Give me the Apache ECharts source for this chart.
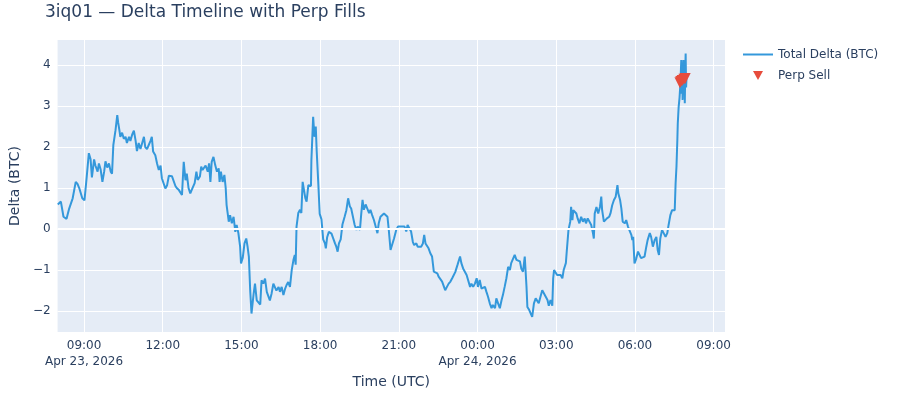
<!DOCTYPE html>
<html>
<head>
<meta charset="utf-8">
<script src="https://cdn.jsdelivr.net/npm/echarts@6/dist/echarts.min.js"></script>
<style>
html, body { margin: 0; padding: 0; background: #fff; }
#main { width: 900px; height: 400px; }
</style>
</head>
<body>
<div id="main"></div>
<script>
// minutes since 2026-04-23 00:00 UTC, total delta in BTC
var deltaPoints = [
  [480,0.60],[487,0.67],[493,0.30],[500,0.25],[506,0.50],[514,0.75],[521,1.15],[525,1.10],[529,1.00],[536,0.75],
  [541,0.70],[546,1.26],[551,1.85],[555,1.70],[558,1.26],[563,1.70],[566,1.55],[571,1.40],[574,1.60],[578,1.45],
  [582,1.15],[586,1.40],[589,1.65],[593,1.50],[597,1.60],[601,1.40],[604,1.35],[607,2.05],[612,2.41],[616,2.78],
  [618,2.60],[621,2.40],[623,2.25],[627,2.35],[631,2.20],[635,2.25],[638,2.10],[643,2.25],[646,2.15],[650,2.30],
  [654,2.40],[658,2.15],[661,1.90],[665,2.10],[669,1.95],[673,2.10],[677,2.25],[680,2.00],[684,1.95],[688,2.05],
  [692,2.15],[695,2.25],[698,1.89],[703,1.80],[707,1.60],[711,1.44],[715,1.55],[718,1.24],[722,1.28],[726,0.99],
  [730,1.07],[734,1.30],[737,1.33],[741,1.29],[745,1.26],[749,1.05],[752,1.00],[757,0.95],[760,0.95],[764,0.83],
  [768,1.64],[772,1.19],[775,1.35],[779,1.00],[783,0.87],[785,0.83],[788,1.00],[793,1.12],[797,1.40],[800,1.20],
  [805,1.28],[808,1.52],[811,1.44],[815,1.40],[818,1.55],[823,1.40],[826,1.60],[829,1.15],[832,1.64],[836,1.76],
  [840,1.56],[844,1.40],[848,1.48],[850,1.15],[853,1.40],[857,1.15],[861,1.32],[864,1.00],[866,0.59],[871,0.18],
  [874,0.34],[878,0.14],[882,0.30],[886,-0.07],[889,0.10],[893,-0.10],[897,-0.43],[899,-0.84],[903,-0.70],[907,-0.35],
  [911,-0.23],[914,-0.43],[917,-0.68],[920,-1.49],[923,-2.06],[928,-1.57],[931,-1.33],[935,-1.74],[939,-1.76],[943,-1.84],
  [946,-1.25],[950,-1.33],[954,-1.21],[958,-1.53],[962,-1.50],[965,-1.74],[969,-1.57],[973,-1.33],[977,-1.29],[980,-1.50],
  [985,-1.41],[988,-1.53],[992,-1.41],[996,-1.61],[1000,-1.45],[1003,-1.37],[1007,-1.29],[1011,-1.41],[1015,-1.00],[1019,-0.75],
  [1022,-0.63],[1024,-0.87],[1026,0.06],[1030,0.39],[1034,0.47],[1037,0.39],[1040,1.15],[1043,1.11],[1046,0.76],[1049,0.67],
  [1053,1.07],[1057,1.10],[1059,1.05],[1060,1.68],[1064,2.74],[1067,2.25],[1070,2.50],[1072,1.93],[1076,1.07],[1079,0.37],
  [1083,0.24],[1087,-0.25],[1091,-0.35],[1093,-0.47],[1096,-0.20],[1100,-0.07],[1106,-0.11],[1109,-0.07],[1114,-0.35],[1117,-0.43],
  [1120,-0.55],[1123,-0.35],[1127,-0.25],[1131,0.11],[1136,0.30],[1140,0.46],[1144,0.75],[1148,0.55],[1151,0.50],[1155,0.50],
  [1159,0.10],[1163,-0.02],[1166,0.06],[1171,-0.02],[1174,0.37],[1177,0.71],[1180,0.47],[1184,0.60],[1188,0.60],[1192,0.39],
  [1195,0.47],[1199,0.34],[1203,0.22],[1207,0.06],[1211,-0.10],[1214,0.14],[1218,0.30],[1222,0.34],[1226,0.38],[1229,0.34],
  [1234,0.30],[1237,-0.02],[1241,-0.51],[1245,-0.47],[1249,-0.23],[1254,-0.02],[1258,0.06],[1261,0.02],[1265,0.06],[1269,0.02],
  [1273,0.06],[1277,-0.06],[1280,0.10],[1284,0.06],[1288,-0.06],[1292,-0.31],[1295,-0.39],[1300,-0.35],[1303,-0.43],[1307,-0.39],
  [1311,-0.43],[1315,-0.35],[1318,-0.14],[1321,-0.35],[1325,-0.39],[1328,-0.47],[1332,-0.59],[1336,-0.67],[1340,-1.04],[1343,-1.00],
  [1348,-1.08],[1351,-1.16],[1355,-1.20],[1359,-1.28],[1363,-1.24],[1366,-1.49],[1370,-1.41],[1374,-1.33],[1378,-1.28],[1382,-1.20],
  [1385,-1.16],[1389,-1.05],[1394,-0.88],[1400,-0.67],[1403,-0.83],[1407,-0.96],[1411,-1.00],[1415,-1.12],[1418,-1.16],[1423,-1.41],
  [1426,-1.33],[1430,-1.41],[1434,-1.33],[1438,-1.20],[1441,-1.41],[1445,-1.24],[1449,-1.45],[1453,-1.41],[1457,-1.41],[1460,-1.52],
  [1464,-1.65],[1468,-1.81],[1472,-1.93],[1475,-1.85],[1480,-1.93],[1483,-1.69],[1487,-1.81],[1491,-1.93],[1495,-1.73],[1498,-1.61],
  [1502,-1.41],[1506,-1.20],[1510,-0.92],[1514,-1.00],[1517,-0.83],[1521,-0.79],[1525,-0.63],[1529,-0.75],[1532,-0.71],[1537,-0.79],
  [1540,-0.96],[1544,-1.04],[1548,-0.67],[1552,-1.41],[1554,-1.90],[1558,-1.97],[1562,-1.93],[1565,-2.14],[1569,-1.81],[1573,-1.69],
  [1577,-1.65],[1580,-1.81],[1585,-1.61],[1588,-1.49],[1592,-1.57],[1596,-1.65],[1600,-1.73],[1603,-1.87],[1607,-1.73],[1611,-1.87],
  [1613,-1.20],[1615,-1.00],[1619,-1.04],[1622,-1.12],[1626,-1.08],[1630,-1.12],[1634,-1.20],[1637,-1.00],[1642,-0.83],[1644,-0.55],
  [1648,-0.02],[1652,0.18],[1654,0.54],[1657,0.22],[1659,0.46],[1662,0.42],[1666,0.38],[1669,0.26],[1673,0.14],[1677,0.30],
  [1681,0.18],[1685,0.26],[1688,0.14],[1692,0.26],[1696,0.22],[1700,0.10],[1704,-0.10],[1706,-0.23],[1708,0.38],[1712,0.54],
  [1716,0.38],[1720,0.54],[1723,0.79],[1725,0.46],[1729,0.18],[1733,0.14],[1736,0.26],[1741,0.30],[1744,0.38],[1748,0.58],
  [1752,0.71],[1756,0.79],[1760,1.07],[1762,0.87],[1766,0.71],[1769,0.50],[1772,0.18],[1777,0.14],[1780,0.22],[1784,0.06],
  [1788,0.02],[1792,-0.15],[1794,-0.27],[1796,-0.19],[1799,-0.84],[1803,-0.72],[1807,-0.55],[1811,-0.59],[1814,-0.71],[1818,-0.71],
  [1822,-0.67],[1826,-0.43],[1829,-0.27],[1834,-0.10],[1837,-0.19],[1841,-0.43],[1845,-0.27],[1849,-0.19],[1852,-0.51],[1855,-0.63],
  [1858,-0.23],[1862,-0.02],[1866,-0.06],[1870,-0.19],[1874,-0.10],[1877,0.10],[1881,0.34],[1885,0.46],[1889,0.42],[1891,0.46],
  [1893,1.11],[1895,1.52],[1897,2.17],[1898,2.58],[1900,2.98],[1902,3.20],[1904,3.55],[1906,4.12],[1907,3.30],[1908,4.05],
  [1909,3.15],[1910,3.90],[1911,4.12],[1912,3.40],[1913,3.90],[1914,3.07],[1915,3.80],[1916,4.28],[1917,3.45],[1918,3.70]
];

// perp sell fills: minutes, delta at fill
var sellPoints = [[1903,3.57],[1905,3.60],[1908,3.62],[1912,3.65],[1915,3.67]];

// x tick positions (minutes since Apr 23 00:00 UTC) and y ticks
var xTickMinutes = [540, 720, 900, 1080, 1260, 1440, 1620, 1800, 1980];
var yTicks = [-2, -1, 0, 1, 2, 3, 4];

var t0 = Date.UTC(2026, 3, 23);
function toMs(m) { return t0 + m * 60000; }
var months = ['Jan','Feb','Mar','Apr','May','Jun','Jul','Aug','Sep','Oct','Nov','Dec'];
function pad(n) { return (n < 10 ? '0' : '') + n; }

var textColor = '#2a3f5f';
var font = 'Verdana, "DejaVu Sans", sans-serif';

var chart = echarts.init(document.getElementById('main'));
chart.setOption({
    animation: false,
    textStyle: { fontFamily: font, color: textColor },
    title: {
        text: '3iq01 \u2014 Delta Timeline with Perp Fills',
        left: 45, top: 4, padding: 0,
        textStyle: { fontFamily: font, fontSize: 17, fontWeight: 'normal', color: textColor }
    },
    legend: {
        orient: 'vertical',
        left: 743, top: 48.5, padding: 0,
        itemWidth: 30, itemHeight: 9, itemGap: 9,
        textStyle: { fontFamily: font, fontSize: 12, color: textColor },
        data: [
            { name: 'Total Delta (BTC)', icon: 'path://M0,0 L30,0 L30,2 L0,2 Z' },
            { name: 'Perp Sell', icon: 'path://M0,0 L10,0 L5,9 Z' }
        ]
    },
    grid: {
        left: 55, right: 175, top: 40, bottom: 68,
        show: true, backgroundColor: '#E5ECF6', borderWidth: 0
    },
    xAxis: {
        type: 'value',
        min: toMs(479.5), max: toMs(2006),
        name: 'Time (UTC)', nameLocation: 'middle', nameGap: 42,
        nameTextStyle: { fontFamily: font, fontSize: 14, color: textColor },
        axisLine: { show: false },
        axisTick: { show: false, customValues: xTickMinutes.map(toMs) },
        splitLine: { show: true, lineStyle: { color: '#fff', width: 1 } },
        axisLabel: {
            customValues: xTickMinutes.map(toMs),
            margin: 6, fontSize: 12, lineHeight: 16, color: textColor, fontFamily: font,
            formatter: function (v) {
                var d = new Date(v);
                var s = pad(d.getUTCHours()) + ':' + pad(d.getUTCMinutes());
                if (v === toMs(xTickMinutes[0]) || d.getUTCHours() === 0) {
                    s += '\n' + months[d.getUTCMonth()] + ' ' + d.getUTCDate() + ', ' + d.getUTCFullYear();
                }
                return s;
            }
        }
    },
    yAxis: {
        type: 'value',
        min: -2.51, max: 4.61,
        name: 'Delta (BTC)', nameLocation: 'middle', nameGap: 31,
        nameTextStyle: { fontFamily: font, fontSize: 14, color: textColor },
        axisLine: { show: false },
        axisTick: { show: false, customValues: yTicks },
        splitLine: { show: true, lineStyle: { color: '#fff', width: 1 } },
        axisLabel: {
            customValues: yTicks,
            margin: 7, fontSize: 12, color: textColor, fontFamily: font,
            formatter: function (v) { return v < 0 ? '\u2212' + (-v) : String(v); }
        }
    },
    series: [
        {
            // zero line, drawn under the data
            name: 'zero',
            type: 'line',
            data: [],
            silent: true,
            markLine: {
                silent: true, symbol: 'none', label: { show: false },
                lineStyle: { color: '#fff', width: 2, type: 'solid' },
                data: [{ yAxis: 0 }]
            },
            z: 1
        },
        {
            name: 'Total Delta (BTC)',
            type: 'line',
            showSymbol: false,
            symbol: 'none',
            data: deltaPoints.map(function (p) { return [toMs(p[0]), p[1]]; }),
            lineStyle: { color: '#3498db', width: 2 },
            itemStyle: { color: '#3498db' },
            z: 2
        },
        {
            name: 'Perp Sell',
            type: 'scatter',
            symbol: 'triangle', symbolRotate: 180, symbolSize: 11,
            data: sellPoints.map(function (p) { return [toMs(p[0]), p[1]]; }),
            itemStyle: { color: '#e74c3c', opacity: 1 },
            z: 3
        }
    ]
});
</script>
</body>
</html>
